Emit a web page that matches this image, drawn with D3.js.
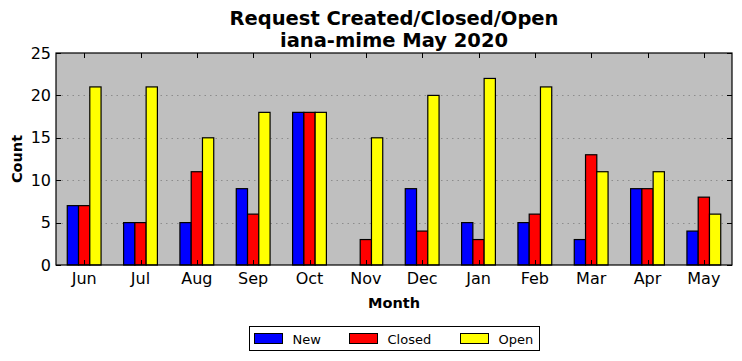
<!DOCTYPE html>
<html>
<head>
<meta charset="utf-8">
<script src="https://cdn.jsdelivr.net/npm/d3@7"></script>
<style>
  body { margin: 0; background: #fff; }
  svg { display: block; font-family: "DejaVu Sans", sans-serif; }
</style>
</head>
<body>
<div id="chart"></div>
<script>
// data
const months = ['Jun', 'Jul', 'Aug', 'Sep', 'Oct', 'Nov', 'Dec', 'Jan', 'Feb', 'Mar', 'Apr', 'May'];
const newCounts = [7, 5, 5, 9, 18, 0, 9, 5, 5, 3, 9, 4];
const closedCounts = [7, 5, 11, 6, 18, 3, 4, 3, 6, 13, 9, 8];
const openCounts = [21, 21, 15, 18, 18, 15, 20, 22, 21, 11, 11, 6];
const seriesNames = ['New', 'Closed', 'Open'];
const seriesColors = ['#0000ff', '#ff0000', '#ffff00'];
const yTicks = [0, 5, 10, 15, 20, 25];

const width = 742, height = 361;
const margin = { top: 53, right: 10, bottom: 96, left: 56 };
const plotW = width - margin.left - margin.right;
const plotH = height - margin.top - margin.bottom;

const series = [newCounts, closedCounts, openCounts];

const svg = d3.select('#chart').append('svg')
    .attr('width', width)
    .attr('height', height);

const x = d3.scaleBand()
    .domain(months)
    .range([0, plotW])
    .padding(0);

const x1 = d3.scaleBand()
    .domain(seriesNames)
    .range([x.bandwidth() * 0.2, x.bandwidth() * 0.8])
    .padding(0);

const y = d3.scaleLinear()
    .domain([0, 25])
    .range([plotH, 0]);

const g = svg.append('g')
    .attr('transform', `translate(${margin.left},${margin.top})`);

// background
g.append('rect')
    .attr('width', plotW)
    .attr('height', plotH)
    .attr('fill', '#bfbfbf');

// grid
g.selectAll('.grid')
    .data(yTicks.filter(d => d > 0 && d < 25))
    .enter()
    .append('line')
    .attr('class', 'grid')
    .attr('x1', 0)
    .attr('x2', plotW)
    .attr('y1', d => Math.round(y(d)) + 0.5)
    .attr('y2', d => Math.round(y(d)) + 0.5)
    .attr('stroke', '#8c8c8c')
    .attr('stroke-width', 1)
    .attr('stroke-dasharray', '1.5,4');

// bars
const groups = g.selectAll('.month')
    .data(months)
    .enter()
    .append('g')
    .attr('class', 'month')
    .attr('transform', d => `translate(${x(d)},0)`);

groups.selectAll('rect')
    .data((m, i) => seriesNames.map((s, j) => ({ s: s, v: series[j][i], c: seriesColors[j] })))
    .enter()
    .append('rect')
    .attr('x', d => x1(d.s))
    .attr('width', x1.bandwidth())
    .attr('y', d => y(d.v))
    .attr('height', d => plotH - y(d.v))
    .attr('fill', d => d.c)
    .attr('stroke', 'black')
    .attr('stroke-width', 1.2);

// axes
const xCenter = d => x(d) + x.bandwidth() / 2;

const xAxis = g.append('g')
    .attr('transform', `translate(0,${plotH})`)
    .call(d3.axisBottom(x).tickSize(0).tickPadding(8));
xAxis.select('.domain').remove();
xAxis.selectAll('text')
    .attr('font-size', 16)
    .attr('font-family', '"DejaVu Sans", sans-serif')
    .attr('fill', '#000');

const yAxis = g.append('g')
    .call(d3.axisLeft(y).tickValues(yTicks).tickSize(0).tickPadding(5));
yAxis.select('.domain').remove();
yAxis.selectAll('text')
    .attr('font-size', 16)
    .attr('font-family', '"DejaVu Sans", sans-serif')
    .attr('fill', '#000');

// inward ticks on all sides
g.selectAll('.ttop')
    .data(months)
    .enter()
    .append('line')
    .attr('x1', d => Math.round(xCenter(d)) + 0.5)
    .attr('x2', d => Math.round(xCenter(d)) + 0.5)
    .attr('y1', 0)
    .attr('y2', 5)
    .attr('stroke', 'black');

g.selectAll('.tbottom')
    .data(months)
    .enter()
    .append('line')
    .attr('x1', d => Math.round(xCenter(d)) + 0.5)
    .attr('x2', d => Math.round(xCenter(d)) + 0.5)
    .attr('y1', plotH)
    .attr('y2', plotH - 5)
    .attr('stroke', 'black');

g.selectAll('.tright')
    .data(yTicks)
    .enter()
    .append('line')
    .attr('x1', plotW)
    .attr('x2', plotW - 5)
    .attr('y1', d => Math.round(y(d)) + 0.5)
    .attr('y2', d => Math.round(y(d)) + 0.5)
    .attr('stroke', 'black');

g.selectAll('.tleft')
    .data(yTicks)
    .enter()
    .append('line')
    .attr('x1', 0)
    .attr('x2', 5)
    .attr('y1', d => Math.round(y(d)) + 0.5)
    .attr('y2', d => Math.round(y(d)) + 0.5)
    .attr('stroke', 'black');

// frame
g.append('rect')
    .attr('width', plotW)
    .attr('height', plotH)
    .attr('fill', 'none')
    .attr('stroke', 'black')
    .attr('stroke-width', 1.2);

// titles
svg.append('text')
    .attr('x', margin.left + plotW / 2)
    .attr('y', 25)
    .attr('text-anchor', 'middle')
    .attr('font-size', 19.5)
    .attr('font-weight', 'bold')
    .text('Request Created/Closed/Open');

svg.append('text')
    .attr('x', margin.left + plotW / 2)
    .attr('y', 47)
    .attr('text-anchor', 'middle')
    .attr('font-size', 19.5)
    .attr('font-weight', 'bold')
    .text('iana-mime May 2020');

svg.append('text')
    .attr('x', margin.left + plotW / 2)
    .attr('y', 308)
    .attr('text-anchor', 'middle')
    .attr('font-size', 14.5)
    .attr('font-weight', 'bold')
    .text('Month');

svg.append('text')
    .attr('transform', `translate(22,${margin.top + plotH / 2}) rotate(-90)`)
    .attr('text-anchor', 'middle')
    .attr('font-size', 14.5)
    .attr('font-weight', 'bold')
    .text('Count');

// legend
const legend = svg.append('g')
    .attr('transform', 'translate(249.5,326.5)');

legend.append('rect')
    .attr('width', 290)
    .attr('height', 24)
    .attr('fill', 'white')
    .attr('stroke', 'black')
    .attr('stroke-width', 1);

const legendX = [5, 100, 211];
const items = legend.selectAll('.item')
    .data(seriesNames)
    .enter()
    .append('g')
    .attr('transform', (d, i) => `translate(${legendX[i]},0)`);

items.append('rect')
    .attr('x', 0)
    .attr('y', 7)
    .attr('width', 28)
    .attr('height', 10)
    .attr('fill', (d, i) => seriesColors[i])
    .attr('stroke', 'black');

items.append('text')
    .attr('x', 38)
    .attr('y', 17)
    .attr('font-size', 13)
    .text(d => d);
</script>
</body>
</html>
